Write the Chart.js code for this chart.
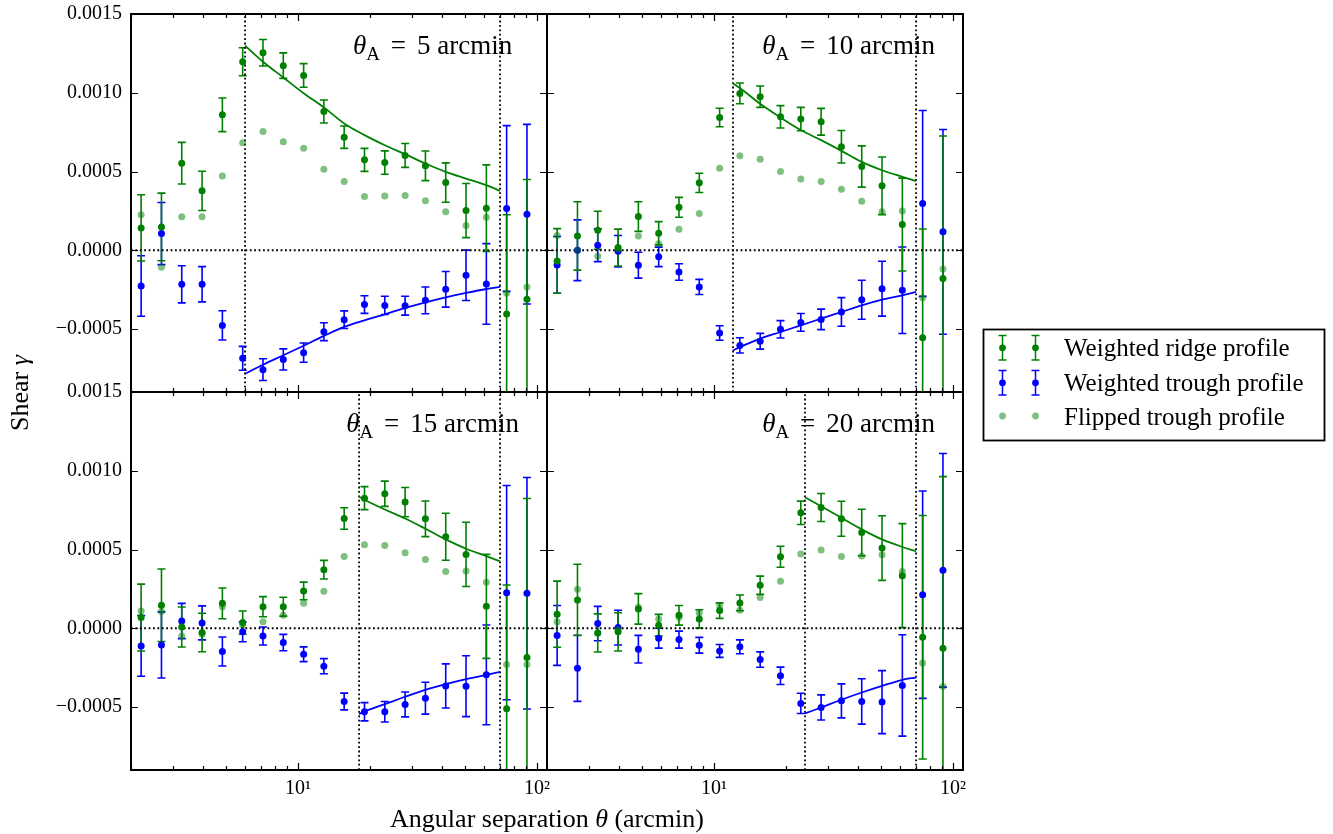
<!DOCTYPE html>
<html><head><meta charset="utf-8">
<script src="https://cdn.jsdelivr.net/npm/chart.js@4.4.1/dist/chart.umd.min.js"></script>
<style>
html,body{margin:0;padding:0;background:#fff;}
#wrap{position:relative;width:1333px;height:834px;overflow:hidden;background:#fff;}
#wrap canvas{position:absolute;left:0;top:0;}
</style></head><body>
<div id="wrap">
<canvas id="c5" width="1333" height="834"></canvas>
<canvas id="c10" width="1333" height="834"></canvas>
<canvas id="c15" width="1333" height="834"></canvas>
<canvas id="c20" width="1333" height="834"></canvas>
</div>
<script>
// ---------------- data ----------------
const theta = [2.205, 2.682, 3.261, 3.966, 4.823, 5.865, 7.132, 8.672, 10.55, 12.82, 15.59, 18.96, 23.06, 28.04, 34.10, 41.47, 50.43, 61.33, 74.57, 90.69];
const thetaA = [5, 10, 15, 20];
const innerCut = [6, 12, 18, 24];
const outerCut = 70;

// theta_A = 5 arcmin
const ridge5 = [1.42e-4, 1.48e-4, 5.53e-4, 3.77e-4, 8.60e-4, 11.97e-4, 12.54e-4, 11.72e-4, 11.10e-4, 8.81e-4, 7.18e-4, 5.74e-4, 5.57e-4, 6.02e-4, 5.36e-4, 4.30e-4, 2.52e-4, 2.67e-4, -4.05e-4, -3.11e-4];
const ridgeErr5 = [2.10e-4, 2.15e-4, 1.32e-4, 1.25e-4, 1.07e-4, 0.89e-4, 0.84e-4, 0.81e-4, 0.75e-4, 0.73e-4, 0.71e-4, 0.73e-4, 0.74e-4, 0.76e-4, 0.94e-4, 1.25e-4, 1.72e-4, 2.75e-4, 6.30e-4, 7.60e-4];
const trough5 = [-2.27e-4, 1.06e-4, -2.16e-4, -2.16e-4, -4.77e-4, -6.86e-4, -7.58e-4, -6.93e-4, -6.50e-4, -5.17e-4, -4.41e-4, -3.45e-4, -3.50e-4, -3.52e-4, -3.18e-4, -2.48e-4, -1.59e-4, -2.14e-4, 2.65e-4, 2.29e-4];
const troughErr5 = [1.92e-4, 1.97e-4, 1.18e-4, 1.12e-4, 0.93e-4, 0.76e-4, 0.69e-4, 0.67e-4, 0.61e-4, 0.57e-4, 0.56e-4, 0.56e-4, 0.58e-4, 0.60e-4, 0.85e-4, 1.13e-4, 1.60e-4, 2.56e-4, 5.26e-4, 5.70e-4];
const flip5 = [2.25e-4, -1.08e-4, 2.12e-4, 2.12e-4, 4.72e-4, 6.82e-4, 7.54e-4, 6.89e-4, 6.48e-4, 5.15e-4, 4.36e-4, 3.41e-4, 3.45e-4, 3.47e-4, 3.14e-4, 2.44e-4, 1.57e-4, 2.10e-4, -2.73e-4, -2.33e-4];
const modelTheta5 = [6, 7.132, 8.672, 10.55, 12.82, 15.59, 18.96, 23.06, 28.04, 34.10, 41.47, 50.43, 61.33, 70];
const modelRidge5 = [12.99e-4, 11.97e-4, 10.97e-4, 9.97e-4, 9.07e-4, 8.05e-4, 7.31e-4, 6.67e-4, 6.10e-4, 5.51e-4, 4.98e-4, 4.55e-4, 4.13e-4, 3.77e-4];
const modelTrough5 = [-7.84e-4, -7.27e-4, -6.67e-4, -6.06e-4, -5.44e-4, -4.87e-4, -4.45e-4, -4.07e-4, -3.66e-4, -3.31e-4, -2.99e-4, -2.71e-4, -2.46e-4, -2.33e-4];

// theta_A = 10 arcmin
const ridge10 = [-0.68e-4, 0.91e-4, 1.27e-4, 0.17e-4, 2.14e-4, 1.08e-4, 2.73e-4, 4.28e-4, 8.43e-4, 9.96e-4, 9.75e-4, 8.47e-4, 8.33e-4, 8.16e-4, 6.57e-4, 5.32e-4, 4.09e-4, 1.63e-4, -5.55e-4, -1.80e-4];
const ridgeErr10 = [2.05e-4, 2.17e-4, 1.21e-4, 1.17e-4, 0.94e-4, 0.74e-4, 0.63e-4, 0.61e-4, 0.59e-4, 0.66e-4, 0.68e-4, 0.71e-4, 0.74e-4, 0.85e-4, 1.03e-4, 1.31e-4, 1.83e-4, 2.95e-4, 6.90e-4, 9.05e-4];
const trough10 = [-0.93e-4, 0.00e-4, 0.32e-4, -0.06e-4, -0.95e-4, -0.42e-4, -1.38e-4, -2.33e-4, -5.25e-4, -6.04e-4, -5.78e-4, -5.02e-4, -4.58e-4, -4.39e-4, -3.92e-4, -3.14e-4, -2.44e-4, -2.54e-4, 2.97e-4, 1.17e-4];
const troughErr10 = [1.80e-4, 1.93e-4, 1.04e-4, 1.00e-4, 0.82e-4, 0.62e-4, 0.52e-4, 0.48e-4, 0.46e-4, 0.48e-4, 0.50e-4, 0.55e-4, 0.56e-4, 0.65e-4, 0.91e-4, 1.24e-4, 1.74e-4, 2.75e-4, 5.90e-4, 6.50e-4];
const flip10 = [0.93e-4, 0.00e-4, -0.38e-4, 0.06e-4, 0.91e-4, 0.42e-4, 1.33e-4, 2.33e-4, 5.21e-4, 6.00e-4, 5.78e-4, 5.00e-4, 4.53e-4, 4.36e-4, 3.88e-4, 3.11e-4, 2.44e-4, 2.50e-4, -3.01e-4, -1.19e-4];
const modelTheta10 = [12, 12.82, 15.59, 18.96, 23.06, 28.04, 34.10, 41.47, 50.43, 61.33, 70];
const modelRidge10 = [10.59e-4, 10.30e-4, 9.30e-4, 8.43e-4, 7.63e-4, 6.99e-4, 6.31e-4, 5.61e-4, 5.08e-4, 4.66e-4, 4.39e-4];
const modelTrough10 = [-6.36e-4, -6.15e-4, -5.61e-4, -5.19e-4, -4.77e-4, -4.34e-4, -3.92e-4, -3.50e-4, -3.14e-4, -2.86e-4, -2.65e-4];

// theta_A = 15 arcmin
const ridge15 = [0.68e-4, 1.46e-4, 0.08e-4, -0.27e-4, 1.58e-4, 0.36e-4, 1.37e-4, 1.37e-4, 2.37e-4, 3.72e-4, 6.97e-4, 8.26e-4, 8.54e-4, 8.01e-4, 6.95e-4, 5.81e-4, 4.69e-4, 1.39e-4, -5.11e-4, -1.86e-4];
const ridgeErr15 = [2.12e-4, 2.30e-4, 1.27e-4, 1.22e-4, 0.98e-4, 0.74e-4, 0.64e-4, 0.60e-4, 0.56e-4, 0.59e-4, 0.68e-4, 0.73e-4, 0.80e-4, 0.93e-4, 1.13e-4, 1.49e-4, 2.04e-4, 3.30e-4, 7.86e-4, 10.1e-4];
const trough15 = [-1.12e-4, -1.06e-4, 0.46e-4, 0.34e-4, -1.48e-4, -0.23e-4, -0.49e-4, -0.91e-4, -1.65e-4, -2.41e-4, -4.65e-4, -5.30e-4, -5.30e-4, -4.84e-4, -4.44e-4, -3.66e-4, -3.68e-4, -2.96e-4, 2.26e-4, 2.22e-4];
const troughErr15 = [1.93e-4, 2.10e-4, 1.12e-4, 1.08e-4, 0.92e-4, 0.63e-4, 0.57e-4, 0.52e-4, 0.47e-4, 0.48e-4, 0.53e-4, 0.58e-4, 0.65e-4, 0.79e-4, 1.01e-4, 1.40e-4, 1.93e-4, 3.17e-4, 6.80e-4, 7.35e-4];
const flip15 = [1.10e-4, 1.06e-4, -0.49e-4, -0.38e-4, 1.37e-4, 0.21e-4, 0.42e-4, 0.82e-4, 1.58e-4, 2.35e-4, 4.56e-4, 5.30e-4, 5.26e-4, 4.80e-4, 4.37e-4, 3.61e-4, 3.63e-4, 2.92e-4, -2.30e-4, -2.30e-4];
const modelTheta15 = [18, 18.96, 23.06, 28.04, 34.10, 41.47, 50.43, 61.33, 70];
const modelRidge15 = [8.35e-4, 8.16e-4, 7.54e-4, 6.97e-4, 6.32e-4, 5.64e-4, 5.05e-4, 4.58e-4, 4.25e-4];
const modelTrough15 = [-5.45e-4, -5.28e-4, -4.82e-4, -4.35e-4, -3.91e-4, -3.55e-4, -3.23e-4, -2.96e-4, -2.77e-4];

// theta_A = 20 arcmin
const ridge20 = [0.89e-4, 1.80e-4, -0.30e-4, -0.23e-4, 1.23e-4, 0.19e-4, 0.82e-4, 0.59e-4, 1.12e-4, 1.61e-4, 2.73e-4, 4.54e-4, 7.33e-4, 7.67e-4, 6.95e-4, 6.08e-4, 5.09e-4, 3.34e-4, -0.57e-4, -1.27e-4];
const ridgeErr20 = [2.10e-4, 2.26e-4, 1.21e-4, 1.21e-4, 0.97e-4, 0.69e-4, 0.62e-4, 0.58e-4, 0.49e-4, 0.50e-4, 0.58e-4, 0.67e-4, 0.74e-4, 0.89e-4, 1.11e-4, 1.48e-4, 2.05e-4, 3.30e-4, 7.73e-4, 10.9e-4];
const trough20 = [-0.46e-4, -2.54e-4, 0.30e-4, 0.04e-4, -1.33e-4, -0.63e-4, -0.72e-4, -1.08e-4, -1.44e-4, -1.18e-4, -1.99e-4, -3.02e-4, -4.77e-4, -5.03e-4, -4.61e-4, -4.65e-4, -4.69e-4, -3.63e-4, 2.13e-4, 3.68e-4];
const troughErr20 = [1.90e-4, 2.10e-4, 1.09e-4, 1.10e-4, 0.88e-4, 0.63e-4, 0.54e-4, 0.50e-4, 0.41e-4, 0.44e-4, 0.49e-4, 0.55e-4, 0.64e-4, 0.80e-4, 1.08e-4, 1.44e-4, 2.00e-4, 3.22e-4, 6.58e-4, 7.42e-4];
const flip20 = [0.42e-4, 2.47e-4, -0.30e-4, -0.06e-4, 1.33e-4, 0.59e-4, 0.68e-4, 0.97e-4, 1.42e-4, 1.14e-4, 1.96e-4, 2.98e-4, 4.71e-4, 4.97e-4, 4.56e-4, 4.58e-4, 4.67e-4, 3.61e-4, -2.20e-4, -3.70e-4];
const modelTheta20 = [24, 28.04, 34.10, 41.47, 50.43, 61.33, 70];
const modelRidge20 = [8.32e-4, 7.75e-4, 7.01e-4, 6.28e-4, 5.64e-4, 5.16e-4, 4.88e-4];
const modelTrough20 = [-5.41e-4, -5.03e-4, -4.54e-4, -4.08e-4, -3.66e-4, -3.27e-4, -3.13e-4];

// axes / ticks / text
const X_MIN = 2, X_MAX = 110, Y_MIN = -0.0009, Y_MAX = 0.0015;
const yTicks = [-0.0005, 0, 0.0005, 0.0010, 0.0015];
const yTickLabels = ['\u22120.0005', '0.0000', '0.0005', '0.0010', '0.0015'];
const xMajorTicks = [10, 100];
const xTickLabels = ['10\u00b9', '10\u00b2'];
const xMinorTicks = [2, 3, 4, 5, 6, 7, 8, 9, 20, 30, 40, 50, 60, 70, 80, 90];
const legendLabels = ['Weighted ridge profile', 'Weighted trough profile', 'Flipped trough profile'];
const xAxisTitle = ['Angular separation ', '\u03b8', ' (arcmin)'];
const yAxisTitle = ['Shear ', '\u03b3'];

// ---------------- styles ----------------
const FONT = 'Liberation Serif';
const GREEN = '#008000', BLUE = '#0000ff', LIGHT = 'rgba(0,128,0,0.5)';
Chart.defaults.font.family = FONT;

function drawRich(ctx, parts, x, y, align) {
  let w = 0;
  parts.forEach(p => { ctx.font = p.font; p.w = ctx.measureText(p.t).width; w += p.w + (p.gap || 0); });
  let cx = align === 'center' ? x - w / 2 : x;
  ctx.textAlign = 'left';
  ctx.textBaseline = 'alphabetic';
  parts.forEach(p => { ctx.font = p.font; ctx.fillText(p.t, cx, y + (p.dy || 0)); cx += p.w + (p.gap || 0); });
}

function errGlyph(ctx, x, y, half, color) {
  ctx.strokeStyle = color; ctx.lineWidth = 1.5;
  ctx.beginPath();
  ctx.moveTo(x, y - half); ctx.lineTo(x, y + half);
  ctx.moveTo(x - 4, y - half); ctx.lineTo(x + 4, y - half);
  ctx.moveTo(x - 4, y + half); ctx.lineTo(x + 4, y + half);
  ctx.stroke();
}

const errorBarPlugin = {
  id: 'errbars',
  beforeDatasetsDraw(chart) {
    const ctx = chart.ctx, a = chart.chartArea, xs = chart.scales.x, ys = chart.scales.y;
    const sets = chart.data.datasets.filter(d => d.errors).sort((p, q) => p.errRank - q.errRank);
    ctx.save();
    ctx.beginPath(); ctx.rect(a.left, a.top, a.right - a.left, a.bottom - a.top); ctx.clip();
    sets.forEach(ds => {
      ctx.strokeStyle = ds.errColor; ctx.lineWidth = 1.6;
      ds.data.forEach((pt, i) => {
        const e = ds.errors[i];
        const px = xs.getPixelForValue(pt.x);
        const y1 = ys.getPixelForValue(pt.y + e), y2 = ys.getPixelForValue(pt.y - e);
        ctx.beginPath();
        ctx.moveTo(px, y1); ctx.lineTo(px, y2);
        ctx.moveTo(px - 4, y1); ctx.lineTo(px + 4, y1);
        ctx.moveTo(px - 4, y2); ctx.lineTo(px + 4, y2);
        ctx.stroke();
      });
    });
    ctx.restore();
  }
};

const framePlugin = {
  id: 'frame',
  afterDraw(chart) {
    const ctx = chart.ctx, a = chart.chartArea, xs = chart.scales.x, ys = chart.scales.y;
    const cfg = chart.options.plugins.frame;
    ctx.save();
    ctx.strokeStyle = '#000'; ctx.lineWidth = 1.2;
    ctx.beginPath();
    xMajorTicks.forEach(v => {
      const px = Math.round(xs.getPixelForValue(v)) + 0.5;
      if (px < a.left || px > a.right) return;
      ctx.moveTo(px, a.bottom); ctx.lineTo(px, a.bottom - 7);
      ctx.moveTo(px, a.top); ctx.lineTo(px, a.top + 7);
    });
    xMinorTicks.forEach(v => {
      const px = Math.round(xs.getPixelForValue(v)) + 0.5;
      if (px < a.left || px > a.right) return;
      ctx.moveTo(px, a.bottom); ctx.lineTo(px, a.bottom - 4);
      ctx.moveTo(px, a.top); ctx.lineTo(px, a.top + 4);
    });
    yTicks.forEach(v => {
      const py = Math.round(ys.getPixelForValue(v)) + 0.5;
      ctx.moveTo(a.left, py); ctx.lineTo(a.left + 7, py);
      ctx.moveTo(a.right, py); ctx.lineTo(a.right - 7, py);
    });
    ctx.stroke();
    ctx.lineWidth = 2;
    ctx.strokeRect(a.left, a.top, a.right - a.left, a.bottom - a.top);

    // panel title
    ctx.fillStyle = '#000';
    drawRich(ctx, [
      { t: '\u03b8', font: 'italic 27px ' + FONT },
      { t: 'A', font: '19px ' + FONT, dy: 6, gap: 11 },
      { t: '=', font: '27px ' + FONT, gap: 11 },
      { t: cfg.thetaA + ' arcmin', font: '27px ' + FONT }
    ], a.left + 0.725 * (a.right - a.left), a.top + 40, 'center');

    if (cfg.axisTitles) {
      drawRich(ctx, [
        { t: xAxisTitle[0], font: '26px ' + FONT },
        { t: xAxisTitle[1], font: 'italic 26px ' + FONT },
        { t: xAxisTitle[2], font: '26px ' + FONT }
      ], 547, 827, 'center');
      ctx.save();
      ctx.translate(28, 393);
      ctx.rotate(-Math.PI / 2);
      drawRich(ctx, [
        { t: yAxisTitle[0], font: '26px ' + FONT },
        { t: yAxisTitle[1], font: 'italic 26px ' + FONT }
      ], 0, 0, 'center');
      ctx.restore();
    }

    if (cfg.legend) {
      ctx.lineWidth = 1.8; ctx.strokeStyle = '#000';
      ctx.strokeRect(983.5, 329.5, 341, 111);
      const rows = [347.8, 382.8, 416];
      const mx = [1002.5, 1035.5];
      mx.forEach(x => {
        errGlyph(ctx, x, rows[0], 12.2, GREEN);
        ctx.fillStyle = GREEN; ctx.beginPath(); ctx.arc(x, rows[0], 3.4, 0, Math.PI * 2); ctx.fill();
        errGlyph(ctx, x, rows[1], 12.2, BLUE);
        ctx.fillStyle = BLUE; ctx.beginPath(); ctx.arc(x, rows[1], 3.4, 0, Math.PI * 2); ctx.fill();
        ctx.fillStyle = LIGHT; ctx.beginPath(); ctx.arc(x, rows[2], 3.4, 0, Math.PI * 2); ctx.fill();
      });
      ctx.fillStyle = '#000';
      ctx.font = '25px ' + FONT; ctx.textAlign = 'left'; ctx.textBaseline = 'alphabetic';
      legendLabels.forEach((s, i) => ctx.fillText(s, 1064, rows[i] + 8.5));
    }
    ctx.restore();
  }
};

const panelDefs = [
  { id: 'c5', k: 0, ridge: ridge5, ridgeErr: ridgeErr5, trough: trough5, troughErr: troughErr5, flip: flip5,
    mTheta: modelTheta5, mRidge: modelRidge5, mTrough: modelTrough5,
    pad: { left: 0, top: 14, right: 786, bottom: 442 }, yLab: true, xLab: false, axisTitles: false, legend: false },
  { id: 'c10', k: 1, ridge: ridge10, ridgeErr: ridgeErr10, trough: trough10, troughErr: troughErr10, flip: flip10,
    mTheta: modelTheta10, mRidge: modelRidge10, mTrough: modelTrough10,
    pad: { left: 547, top: 14, right: 370, bottom: 442 }, yLab: false, xLab: false, axisTitles: false, legend: true },
  { id: 'c15', k: 2, ridge: ridge15, ridgeErr: ridgeErr15, trough: trough15, troughErr: troughErr15, flip: flip15,
    mTheta: modelTheta15, mRidge: modelRidge15, mTrough: modelTrough15,
    pad: { left: 0, top: 392, right: 786, bottom: 24 }, yLab: true, xLab: true, axisTitles: true, legend: false },
  { id: 'c20', k: 3, ridge: ridge20, ridgeErr: ridgeErr20, trough: trough20, troughErr: troughErr20, flip: flip20,
    mTheta: modelTheta20, mRidge: modelRidge20, mTrough: modelTrough20,
    pad: { left: 547, top: 392, right: 370, bottom: 24 }, yLab: false, xLab: true, axisTitles: false, legend: false }
];

function dotted(data) {
  return { data, showLine: true, borderColor: '#000', borderWidth: 1.8, borderDash: [1.8, 2.6],
           borderCapStyle: 'butt', pointRadius: 0, order: 9 };
}

panelDefs.forEach(p => {
  const datasets = [
    dotted([{ x: X_MIN, y: 0 }, { x: X_MAX, y: 0 }]),
    dotted([{ x: innerCut[p.k], y: Y_MIN }, { x: innerCut[p.k], y: Y_MAX }]),
    dotted([{ x: outerCut, y: Y_MIN }, { x: outerCut, y: Y_MAX }]),
    { label: 'Weighted trough profile', data: theta.map((x, i) => ({ x, y: p.trough[i] })), errors: p.troughErr,
      errColor: BLUE, errRank: 0, backgroundColor: BLUE, borderWidth: 0, pointRadius: 3.5, order: 8 },
    { label: 'Weighted ridge profile', data: theta.map((x, i) => ({ x, y: p.ridge[i] })), errors: p.ridgeErr,
      errColor: GREEN, errRank: 1, backgroundColor: GREEN, borderWidth: 0, pointRadius: 3.5, order: 7 },
    { label: 'Flipped trough profile', data: theta.map((x, i) => ({ x, y: p.flip[i] })),
      backgroundColor: LIGHT, borderWidth: 0, pointRadius: 3.5, order: 6 },
    { label: 'ridge model', data: p.mTheta.map((x, i) => ({ x, y: p.mRidge[i] })), showLine: true,
      borderColor: GREEN, borderWidth: 1.8, pointRadius: 0, cubicInterpolationMode: 'monotone', order: 5 },
    { label: 'trough model', data: p.mTheta.map((x, i) => ({ x, y: p.mTrough[i] })), showLine: true,
      borderColor: BLUE, borderWidth: 1.8, pointRadius: 0, cubicInterpolationMode: 'monotone', order: 5 }
  ];
  new Chart(document.getElementById(p.id), {
    type: 'scatter',
    data: { datasets },
    options: {
      responsive: false, animation: false, devicePixelRatio: 1, events: [],
      layout: { padding: p.pad },
      plugins: { legend: { display: false }, tooltip: { enabled: false },
                 frame: { thetaA: thetaA[p.k], axisTitles: p.axisTitles, legend: p.legend } },
      scales: {
        x: {
          type: 'logarithmic', min: X_MIN, max: X_MAX, display: p.xLab,
          grid: { display: false, drawTicks: false }, border: { display: false },
          ticks: { autoSkip: false, maxRotation: 0, padding: 7, color: '#000', font: { family: FONT, size: 20 },
                   callback: (v, i) => xTickLabels[i] },
          afterBuildTicks: s => { s.ticks = xMajorTicks.map(v => ({ value: v })); },
          afterFit: s => { s.height = p.xLab ? 40 : 0; s.paddingLeft = 0; s.paddingRight = 0; }
        },
        y: {
          type: 'linear', min: Y_MIN, max: Y_MAX, display: p.yLab,
          grid: { display: false, drawTicks: false }, border: { display: false },
          ticks: { padding: 9, color: '#000', font: { family: FONT, size: 20 },
                   callback: (v, i) => yTickLabels[i] },
          afterBuildTicks: s => { s.ticks = yTicks.map(v => ({ value: v })); },
          afterFit: s => { s.width = p.yLab ? 131 : 0; s.paddingTop = 0; s.paddingBottom = 0; }
        }
      }
    },
    plugins: [errorBarPlugin, framePlugin]
  });
});
</script>
</body></html>
